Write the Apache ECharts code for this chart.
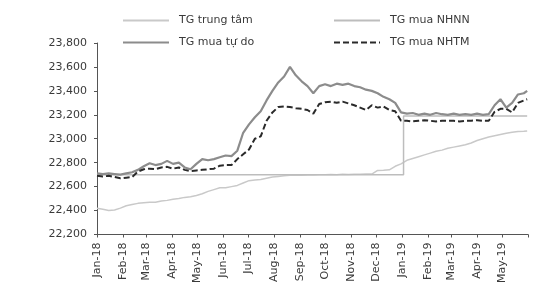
<!DOCTYPE html>
<html>
<head>
<meta charset="utf-8">
<script src="https://cdn.jsdelivr.net/npm/echarts@6/dist/echarts.min.js"></script>
<style>
html,body{margin:0;padding:0;background:#fff;}
#c{width:534px;height:286px;}
</style>
</head>
<body>
<div id="c"></div>
<script>
// Weekly observation dates
const dates = [
 '2018-01-01','2018-01-08','2018-01-15','2018-01-22','2018-01-29','2018-02-05','2018-02-12','2018-02-19','2018-02-26',
 '2018-03-05','2018-03-12','2018-03-19','2018-03-26','2018-04-02','2018-04-09','2018-04-16','2018-04-23','2018-04-30',
 '2018-05-07','2018-05-14','2018-05-21','2018-05-28','2018-06-04','2018-06-11','2018-06-18','2018-06-25',
 '2018-07-02','2018-07-09','2018-07-16','2018-07-23','2018-07-30','2018-08-06','2018-08-13','2018-08-20','2018-08-27',
 '2018-09-03','2018-09-10','2018-09-17','2018-09-24','2018-10-01','2018-10-08','2018-10-15','2018-10-22','2018-10-29',
 '2018-11-05','2018-11-12','2018-11-19','2018-11-26','2018-12-03','2018-12-10','2018-12-17','2018-12-24','2018-12-31',
 '2019-01-07','2019-01-14','2019-01-21','2019-01-28','2019-02-04','2019-02-11','2019-02-18','2019-02-25',
 '2019-03-04','2019-03-11','2019-03-18','2019-03-25','2019-04-01','2019-04-08','2019-04-15','2019-04-22','2019-04-29',
 '2019-05-06','2019-05-13','2019-05-20','2019-05-27','2019-05-31'
];
// TG trung tâm (central rate)
const centralRate = [
 22420,22410,22400,22405,22420,22440,22450,22460,22465,
 22470,22470,22480,22485,22495,22500,22510,22515,22525,
 22540,22560,22575,22590,22590,22600,22610,22630,
 22650,22655,22660,22670,22680,22685,22690,22695,22695,
 22695,22697,22698,22700,22700,22702,22700,22703,22702,
 22704,22703,22705,22705,22735,22737,22740,22770,22790,
 22820,22835,22850,22865,22880,22895,22905,22920,
 22930,22940,22950,22965,22985,23000,23015,23025,23035,
 23045,23055,23060,23062,23065
];
// TG mua tự do (free market buying rate)
const freeMarket = [
 22710,22705,22710,22705,22700,22710,22720,22740,22770,
 22795,22780,22790,22815,22790,22800,22760,22745,22790,
 22830,22820,22830,22845,22860,22855,22900,23050,
 23120,23180,23230,23320,23400,23470,23520,23600,23530,
 23480,23440,23380,23440,23455,23440,23460,23450,23460,
 23440,23430,23410,23400,23380,23350,23330,23300,23220,
 23210,23215,23200,23210,23200,23215,23205,23200,
 23210,23200,23205,23200,23210,23200,23205,23280,23330,
 23260,23300,23370,23380,23400
];
// TG mua NHTM (commercial bank buying rate)
const commercial = [
 22690,22685,22690,22680,22670,22675,22680,22725,22745,
 22750,22745,22760,22765,22750,22760,22740,22730,22735,
 22740,22745,22750,22775,22780,22780,22830,22870,
 22910,23000,23020,23150,23220,23265,23270,23265,23255,
 23250,23240,23210,23290,23305,23310,23300,23310,23295,
 23280,23260,23240,23280,23260,23270,23240,23230,23150,
 23150,23145,23150,23155,23150,23145,23150,23150,
 23150,23145,23150,23150,23155,23150,23150,23225,23250,
 23250,23220,23300,23320,23330
];
// TG mua NHNN (SBV buying rate)
const sbvDates = ['2018-01-01','2019-01-03','2019-01-03','2019-05-31'];
const sbvRate = [22700,22700,23190,23190];

const monthNames = ['Jan','Feb','Mar','Apr','May','Jun','Jul','Aug','Sep','Oct','Nov','Dec'];
const seriesNames = ['TG trung tâm','TG mua NHNN','TG mua tự do','TG mua NHTM'];

const pair = (d, v) => d.map((x, i) => [x, v[i]]);
const FONT = 'DejaVu Sans';
const txt = {fontFamily: FONT, fontSize: 11, color: '#3a3a3a'};

const chart = echarts.init(document.getElementById('c'), null, {renderer: 'canvas'});
function legendAt(name, left, top) {
  return {
    data: [name], left: left, top: top, padding: 0,
    itemWidth: 46, itemHeight: 10,
    itemStyle: {opacity: 0},
    textStyle: Object.assign({}, txt, {padding: [0, 0, 0, 5]})
  };
}
chart.setOption({
  animation: false,
  backgroundColor: '#fff',
  legend: [
    legendAt(seriesNames[0], 122, 15),
    legendAt(seriesNames[1], 333, 15),
    legendAt(seriesNames[2], 122, 37),
    legendAt(seriesNames[3], 333, 37)
  ],
  grid: {left: 97, right: 6, top: 43, bottom: 47, containLabel: false},
  xAxis: {
    type: 'time',
    min: '2018-01-01', max: '2019-06-01',
    splitNumber: 17,
    minInterval: 28 * 86400000, maxInterval: 31 * 86400000,
    axisLine: {lineStyle: {color: '#555', width: 1}},
    axisTick: {show: true, length: 3, inside: false, lineStyle: {color: '#555'}},
    splitLine: {show: false},
    axisLabel: Object.assign({}, txt, {
      rotate: 90, margin: 8, fontWeight: 'normal', showMaxLabel: false,
      formatter: function (v) {
        const d = new Date(v);
        if (d.getFullYear() === 2019 && d.getMonth() >= 5) return '';
        return monthNames[d.getMonth()] + '-' + String(d.getFullYear()).slice(2);
      }
    })
  },
  yAxis: {
    type: 'value', min: 22200, max: 23800, interval: 200,
    axisLine: {show: true, lineStyle: {color: '#555', width: 1}},
    axisTick: {show: true, length: 3, lineStyle: {color: '#555'}},
    splitLine: {show: false},
    axisLabel: Object.assign({}, txt, {
      margin: 10,
      formatter: v => v.toLocaleString('en-US')
    })
  },
  series: [
    {name: seriesNames[0], type: 'line', data: pair(dates, centralRate), symbol: 'none',
     lineStyle: {color: '#c9c9c9', width: 1.5}, itemStyle: {color: '#c9c9c9'}, z: 2},
    {name: seriesNames[1], type: 'line', data: pair(sbvDates, sbvRate), symbol: 'none',
     lineStyle: {color: '#bdbdbd', width: 1.5}, itemStyle: {color: '#bdbdbd'}, z: 2},
    {name: seriesNames[2], type: 'line', data: pair(dates, freeMarket), symbol: 'none',
     lineStyle: {color: '#8c8c8c', width: 2.2}, itemStyle: {color: '#8c8c8c'}, z: 3},
    {name: seriesNames[3], type: 'line', data: pair(dates, commercial), symbol: 'none',
     lineStyle: {color: '#2a2a2a', width: 2, type: [6, 3]}, itemStyle: {color: '#2a2a2a'}, z: 4}
  ]
});
</script>
</body>
</html>
